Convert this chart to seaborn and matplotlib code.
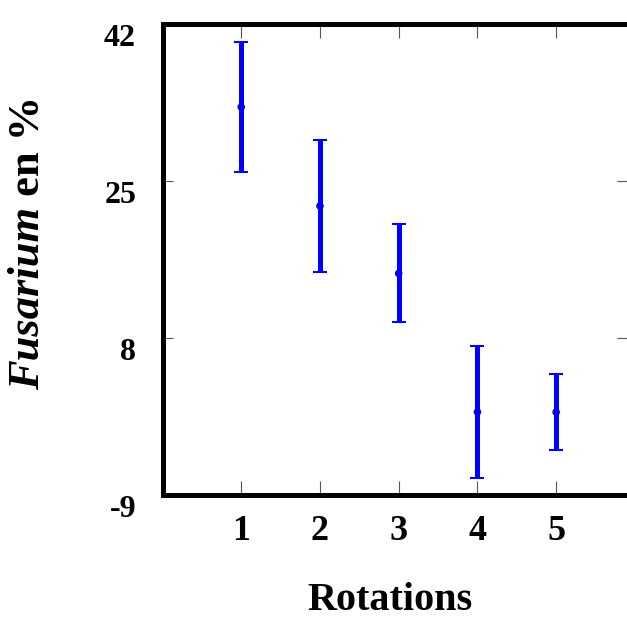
import matplotlib
matplotlib.use("Agg")
import matplotlib.pyplot as plt
import seaborn as sns
import pandas as pd

# Data
rotations = [1, 2, 3, 4, 5]
fusarium_mean = [33.0, 22.3, 15.0, 0.0, 0.0]
fusarium_err = [7.0, 7.1, 5.3, 7.1, 4.1]
y_ticks = [-9, 8, 25, 42]
x_ticks = [1, 2, 3, 4, 5]

df = pd.DataFrame({"Rotations": rotations, "mean": fusarium_mean, "err": fusarium_err})

sns.set_style("white")
plt.rcParams["font.family"] = "serif"
plt.rcParams["font.serif"] = ["Liberation Serif", "DejaVu Serif"]
plt.rcParams["text.color"] = "black"
plt.rcParams["xtick.color"] = "black"
plt.rcParams["ytick.color"] = "black"
plt.rcParams["axes.unicode_minus"] = False

W, H = 627, 617
fig = plt.figure(figsize=(W / 100, H / 100), dpi=100)
left, right, bottom, top = 162.5, 627, 495.3, 23.8
ax = fig.add_axes([left / W, 1 - bottom / H, (right - left) / W, (bottom - top) / H])

ax.errorbar(df["Rotations"], df["mean"], yerr=df["err"], fmt="none",
            ecolor="#0000FF", elinewidth=3.6, capsize=4.7, capthick=1.5, zorder=2)
sns.scatterplot(data=df, x="Rotations", y="mean", ax=ax, color="#0000EE",
                s=30, edgecolor="none", zorder=3, legend=False)

ax.set_xlim(0, 5.9)
ax.set_ylim(-9, 42)
ax.set_xticks(x_ticks)
ax.set_yticks(y_ticks)
ax.set_xlabel("")
ax.set_ylabel("")

for side in ["left", "bottom", "top"]:
    ax.spines[side].set_visible(True)
    ax.spines[side].set_linewidth(3.6)
    ax.spines[side].set_color("black")
ax.spines["right"].set_visible(False)

ax.tick_params(axis="x", which="major", direction="in", length=10, width=0.8,
               color="#555555", labelcolor="black", top=True, bottom=True, pad=14, labelsize=26)
ax.tick_params(axis="y", which="major", direction="in", length=7.5, width=0.8,
               color="#555555", labelcolor="black", left=True, right=True, pad=19, labelsize=23)
for lab in ax.get_xticklabels():
    lab.set_fontweight("bold")
for lab in ax.get_yticklabels():
    lab.set_fontweight("bold")
    lab.set_va("top")

# Axis titles
fig.text(390 / W, 1 - 600 / H, "Rotations", ha="center", va="center",
         fontsize=29, fontweight="bold", color="black")

renderer = fig.canvas.get_renderer()
t1 = fig.text(28 / W, 1 - 390 / H, "Fusarium", rotation=90, ha="center", va="bottom",
              fontsize=32, fontweight="bold", fontstyle="italic", color="black")
bb = t1.get_window_extent(renderer)
fig.text(28 / W, (bb.y1) / H, " en %", rotation=90, ha="center", va="bottom",
         fontsize=32, fontweight="bold", color="black")

fig.savefig("out.png", dpi=100)
